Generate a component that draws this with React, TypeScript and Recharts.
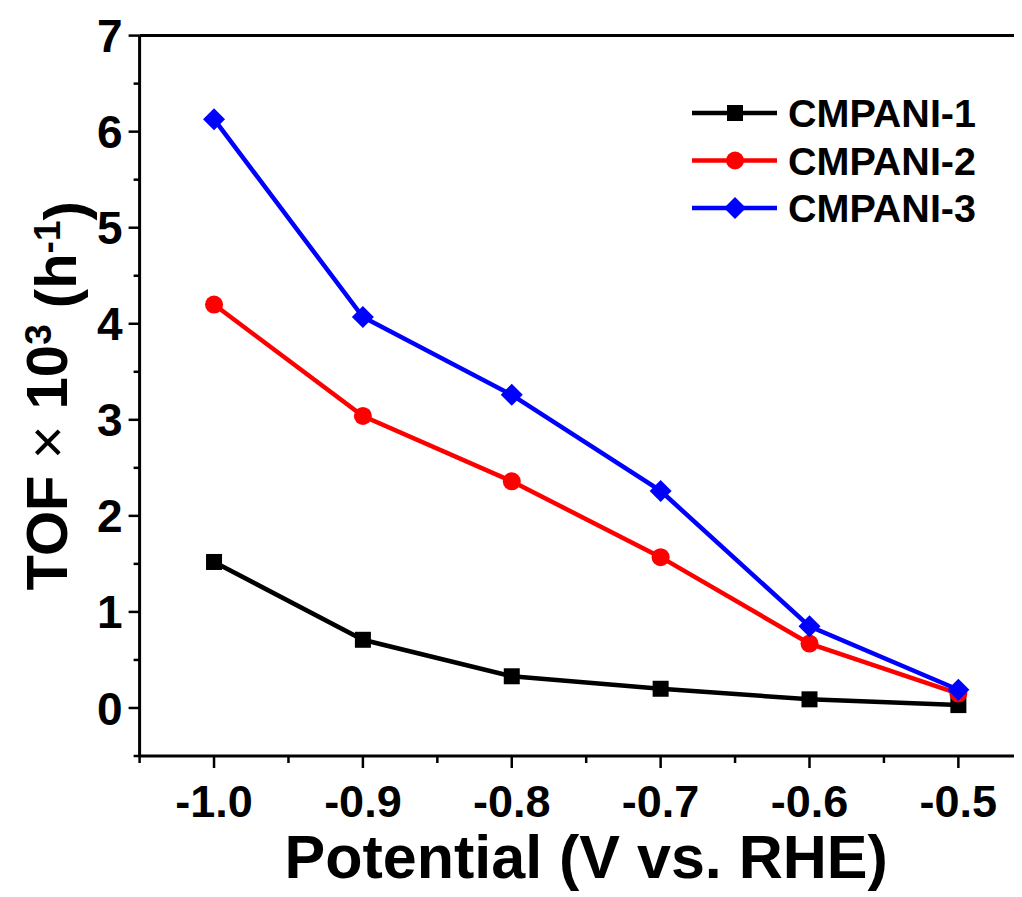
import { LineChart, Line, XAxis, YAxis, Legend, ReferenceLine, Label } from "recharts"

const potentials = [-1.0, -0.9, -0.8, -0.7, -0.6, -0.5]
const cmpani1 = [1.52, 0.71, 0.33, 0.2, 0.09, 0.03]
const cmpani2 = [4.2, 3.04, 2.36, 1.57, 0.67, 0.15]
const cmpani3 = [6.13, 4.07, 3.26, 2.26, 0.85, 0.19]
const seriesNames = ["CMPANI-1", "CMPANI-2", "CMPANI-3"]

const xTicks = [-1.05, -1.0, -0.95, -0.9, -0.85, -0.8, -0.75, -0.7, -0.65, -0.6, -0.55, -0.5, -0.45]
const yTicks = [-0.5, 0, 0.5, 1, 1.5, 2, 2.5, 3, 3.5, 4, 4.5, 5, 5.5, 6, 6.5, 7]

const data = potentials.map((p, i) => ({ x: p, s1: cmpani1[i], s2: cmpani2[i], s3: cmpani3[i] }))

const FONT = "'Liberation Sans', Arial, Helvetica, sans-serif"
const COLORS: Record<string, string> = { "CMPANI-1": "#000000", "CMPANI-2": "#ff0000", "CMPANI-3": "#0000ff" }
const SHAPES: Record<string, string> = { "CMPANI-1": "square", "CMPANI-2": "circle", "CMPANI-3": "diamond" }

const X_TICK = 12
const X_MARGIN = 4
const Y_TICK = 11
const Y_MARGIN = 6

function Marker({ cx, cy, shape, color }: { cx: number; cy: number; shape: string; color: string }) {
  if (shape === "square") return <rect x={cx - 8} y={cy - 8} width={16} height={16} fill={color} />
  if (shape === "circle") return <circle cx={cx} cy={cy} r={9} fill={color} />
  const d = 11
  return <polygon points={`${cx},${cy - d} ${cx + d},${cy} ${cx},${cy + d} ${cx - d},${cy}`} fill={color} />
}

const isMajor = (v: number, step: number) => Math.abs(v / step - Math.round(v / step)) < 1e-6

function XTick(props: any) {
  const { x, y, payload } = props
  const axisY = y - X_TICK - X_MARGIN
  const major = isMajor(payload.value, 0.1)
  return (
    <g>
      <line x1={x} x2={x} y1={axisY} y2={axisY + (major ? 12 : 7)} stroke="#000" strokeWidth={2.5} />
      {major && (
        <text x={x} y={axisY + 61} textAnchor="middle" fontFamily={FONT} fontWeight="bold" fontSize={45} fill="#000">
          {payload.value.toFixed(1)}
        </text>
      )}
    </g>
  )
}

function YTick(props: any) {
  const { x, y, payload } = props
  const axisX = x + Y_TICK + Y_MARGIN
  const major = isMajor(payload.value, 1)
  return (
    <g>
      <line x1={axisX} x2={axisX - (major ? 11 : 6)} y1={y} y2={y} stroke="#000" strokeWidth={2.5} />
      {major && (
        <text x={x} y={y} dy="0.36em" textAnchor="end" fontFamily={FONT} fontWeight="bold" fontSize={46} fill="#000">
          {payload.value}
        </text>
      )}
    </g>
  )
}

function YTitle(props: any) {
  const vb = props.viewBox
  const cx = vb.x + 59
  const cy = vb.y + vb.height / 2
  return (
    <text
      x={cx}
      y={cy}
      transform={`rotate(-90, ${cx}, ${cy})`}
      textAnchor="middle"
      fontFamily={FONT}
      fontWeight="bold"
      fontSize={58}
      fill="#000"
    >
      <tspan>TOF </tspan>
      <tspan fontWeight="normal">×</tspan>
      <tspan> 10</tspan>
      <tspan dy="-0.42em" fontSize={37}>3</tspan>
      <tspan dy="0.42em"> (h</tspan>
      <tspan dy="-0.42em" fontSize={37}>-1</tspan>
      <tspan dy="0.42em">)</tspan>
    </text>
  )
}

function LegendBox(props: any) {
  const items = props.payload || []
  return (
    <svg width={340} height={150}>
      {items.map((it: any, i: number) => {
        const name = it.value as string
        const cy = 25 + i * 47.5
        const color = COLORS[name]
        return (
          <g key={name}>
            <line x1={14} x2={99} y1={cy} y2={cy} stroke={color} strokeWidth={4.5} />
            <Marker cx={57} cy={cy} shape={SHAPES[name]} color={color} />
            <text x={110} y={cy + 14} fontFamily={FONT} fontWeight="bold" fontSize={39.5} fill="#000">
              {name}
            </text>
          </g>
        )
      })}
    </svg>
  )
}

const dotFor = (name: string) => (p: any) => (
  <Marker key={`${name}-${p.index}`} cx={p.cx} cy={p.cy} shape={SHAPES[name]} color={COLORS[name]} />
)

export default function App() {
  return (
    <div style={{ width: 1014, height: 889, overflow: "hidden", background: "#fff" }}>
      <LineChart width={1040} height={889} data={data} margin={{ top: 27.6, right: 15.2, bottom: 0, left: 0 }}>
        <XAxis
          dataKey="x"
          type="number"
          domain={[-1.05, -0.45]}
          ticks={xTicks}
          interval={0}
          height={141}
          tickSize={X_TICK}
          tickMargin={X_MARGIN}
          tickLine={false}
          tick={<XTick />}
          axisLine={{ stroke: "#000", strokeWidth: 3 }}
          allowDataOverflow
        >
          <Label
            content={(p: any) => (
              <text
                x={p.viewBox.x + p.viewBox.width / 2}
                y={p.viewBox.y + 122}
                textAnchor="middle"
                fontFamily={FONT}
                fontWeight="bold"
                fontSize={61}
                fill="#000"
              >
                Potential (V vs. RHE)
              </text>
            )}
          />
        </XAxis>
        <YAxis
          type="number"
          domain={[-0.5, 7]}
          ticks={yTicks}
          interval={0}
          width={131.6}
          tickSize={Y_TICK}
          tickMargin={Y_MARGIN}
          tickLine={false}
          tick={<YTick />}
          axisLine={{ stroke: "#000", strokeWidth: 3 }}
          allowDataOverflow
        >
          <Label content={<YTitle />} />
        </YAxis>
        <ReferenceLine y={7} stroke="#000" strokeWidth={3} />
        <ReferenceLine x={-0.45} stroke="#000" strokeWidth={3} />
        <Legend
          layout="horizontal"
          verticalAlign="middle"
          align="center"
          content={<LegendBox />}
          wrapperStyle={{ position: "absolute", left: 670, top: 80, width: 340, height: 150 }}
        />
        <Line dataKey="s1" name={seriesNames[0]} stroke={COLORS["CMPANI-1"]} strokeWidth={4.5} dot={dotFor(seriesNames[0])} activeDot={false} isAnimationActive={false} />
        <Line dataKey="s2" name={seriesNames[1]} stroke={COLORS["CMPANI-2"]} strokeWidth={4.5} dot={dotFor(seriesNames[1])} activeDot={false} isAnimationActive={false} />
        <Line dataKey="s3" name={seriesNames[2]} stroke={COLORS["CMPANI-3"]} strokeWidth={4.5} dot={dotFor(seriesNames[2])} activeDot={false} isAnimationActive={false} />
      </LineChart>
    </div>
  )
}
